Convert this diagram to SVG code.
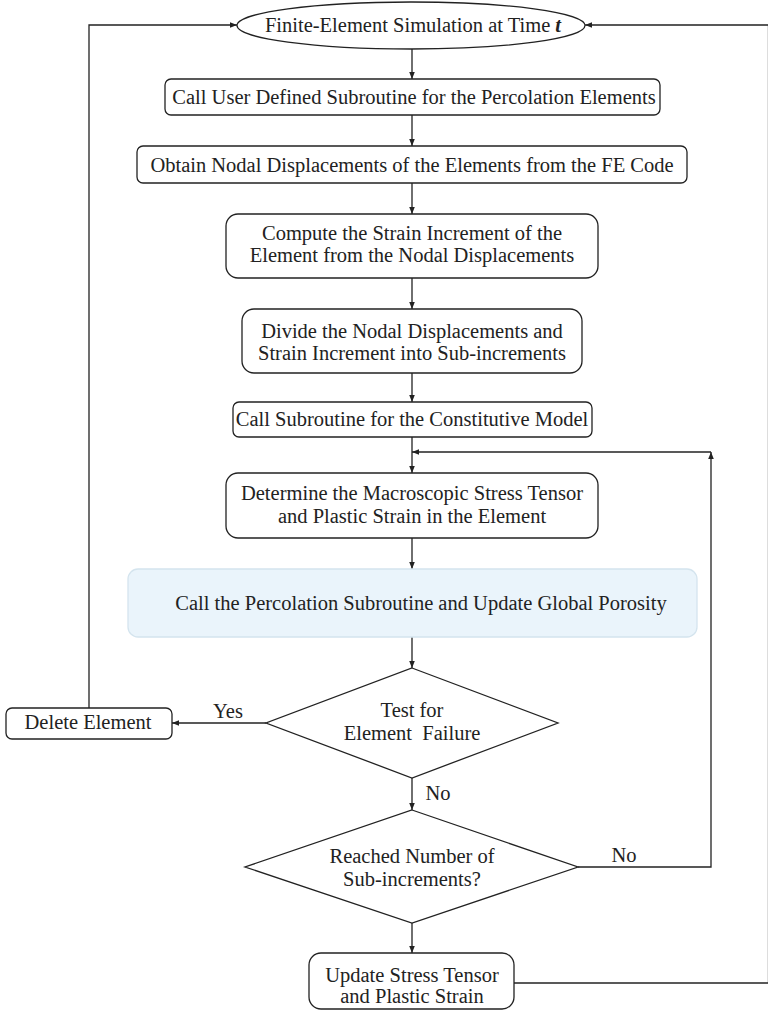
<svg xmlns="http://www.w3.org/2000/svg" width="768" height="1020" viewBox="0 0 768 1020">
<defs>
<marker id="ah" viewBox="0 0 10 10" refX="10" refY="5" markerWidth="7" markerHeight="7" orient="auto" markerUnits="userSpaceOnUse">
<path d="M0,1 L10,5 L0,9 z" fill="#222"/>
</marker>
<style>
.n{fill:#fff;stroke:#222;stroke-width:1.3}
.b{fill:#eaf4fb;stroke:#d4e4ee;stroke-width:1.3}
.t{font-family:"Liberation Serif","Times New Roman",serif;font-size:20.5px;fill:#222;text-anchor:middle}
.c{fill:none;stroke:#222;stroke-width:1.3}
.a{fill:none;stroke:#222;stroke-width:1.3;marker-end:url(#ah)}
</style>
</defs>
<rect width="768" height="1020" fill="#fff"/>
<g id="connectors">
<path class="a" d="M89,708 V25 H237"/>
<path class="a" d="M768.5,983 V25 H585"/>
<path class="c" d="M514,983 H768.5"/>
<path class="a" d="M412,49 V79"/>
<path class="a" d="M412,115 V146"/>
<path class="a" d="M412,183 V214"/>
<path class="a" d="M412,278 V309"/>
<path class="a" d="M412,373 V402"/>
<path class="a" d="M412,437 V473"/>
<path class="a" d="M578,867 H711 V452"/>
<path class="a" d="M711,452 H412"/>
<path class="a" d="M412,538 V569"/>
<path class="a" d="M412,637 V668"/>
<path class="a" d="M266,723 H172"/>
<path class="a" d="M412,778 V810"/>
<path class="a" d="M412,923 V953"/>
<text class="t" x="228" y="718">Yes</text>
<text class="t" x="438" y="800">No</text>
<text class="t" x="624" y="862">No</text>
</g>
<g id="start">
<ellipse class="n" cx="411" cy="25.5" rx="174" ry="23.5"/>
<text class="t" x="413" y="32">Finite-Element Simulation at Time <tspan font-style="italic" font-weight="bold">t</tspan></text>
</g>
<g id="call-user">
<rect class="n" x="165" y="79" width="495" height="36" rx="6"/>
<text class="t" x="414" y="104">Call User Defined Subroutine for the Percolation Elements</text>
</g>
<g id="obtain">
<rect class="n" x="137" y="146" width="550" height="37" rx="6"/>
<text class="t" x="412" y="172">Obtain Nodal Displacements of the Elements from the FE Code</text>
</g>
<g id="compute">
<rect class="n" x="226" y="214" width="372" height="64" rx="12"/>
<text class="t" x="412" y="240">Compute the Strain Increment of the</text>
<text class="t" x="412" y="262">Element from the Nodal Displacements</text>
</g>
<g id="divide">
<rect class="n" x="242" y="309" width="340" height="64" rx="12"/>
<text class="t" x="412" y="338">Divide the Nodal Displacements and</text>
<text class="t" x="412" y="360">Strain Increment into Sub-increments</text>
</g>
<g id="call-sub">
<rect class="n" x="233" y="402" width="359" height="35" rx="6"/>
<text class="t" x="412" y="426">Call Subroutine for the Constitutive Model</text>
</g>
<g id="determine">
<rect class="n" x="226" y="473" width="372" height="65" rx="12"/>
<text class="t" x="412" y="500">Determine the Macroscopic Stress Tensor</text>
<text class="t" x="412" y="523">and Plastic Strain in the Element</text>
</g>
<g id="percolation">
<rect class="b" x="128" y="569" width="569" height="68" rx="10"/>
<text class="t" x="421" y="610">Call the Percolation Subroutine and Update Global Porosity</text>
</g>
<g id="test-failure">
<polygon class="n" points="412,668 558,723 412,778 266,723"/>
<text class="t" x="412" y="717">Test for</text>
<text class="t" x="412" y="740" xml:space="preserve">Element  Failure</text>
</g>
<g id="delete">
<rect class="n" x="6" y="708" width="166" height="31" rx="6"/>
<text class="t" x="88" y="729">Delete Element</text>
</g>
<g id="reached">
<polygon class="n" points="412,810 578,867 412,923 245,867"/>
<text class="t" x="412" y="863">Reached Number of</text>
<text class="t" x="412" y="886">Sub-increments?</text>
</g>
<g id="update">
<rect class="n" x="309" y="953" width="205" height="56" rx="12"/>
<text class="t" x="412" y="982">Update Stress Tensor</text>
<text class="t" x="412" y="1003">and Plastic Strain</text>
</g>
</svg>
